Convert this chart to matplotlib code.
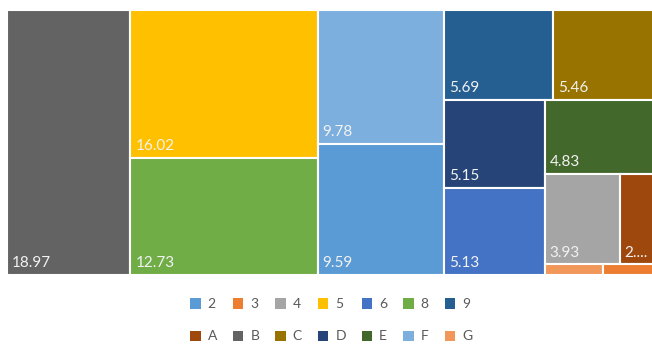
import matplotlib.pyplot as plt
from matplotlib.patches import Rectangle, Patch

plt.rcParams['font.family'] = ['Lato', 'DejaVu Sans']

# shares per category (%), largest first
names = ['B', '5', '8', 'F', '2', '9', 'C', 'D', '6', 'E', '4', 'A', 'G', '3']
values = [18.97, 16.02, 12.73, 9.78, 9.59, 5.69, 5.46, 5.15, 5.13, 4.83, 3.93, 2.02, 0.36, 0.34]
legend_row1 = ['2', '3', '4', '5', '6', '8', '9']
legend_row2 = ['A', 'B', 'C', 'D', 'E', 'F', 'G']

colors = {
    '2': '#5B9BD5', '3': '#ED7D31', '4': '#A5A5A5', '5': '#FFC000',
    '6': '#4472C4', '8': '#70AD47', '9': '#255E91', 'A': '#9E480E',
    'B': '#636363', 'C': '#997300', 'D': '#264478', 'E': '#43682B',
    'F': '#7CAFDD', 'G': '#F1975A',
}

# nested split: 'h' lays children left to right, 'v' top to bottom
layout = ('h', ['B', ('v', ['5', '8']), ('v', ['F', '2']),
                ('v', [('h', ['9', 'C']),
                       ('h', [('v', ['D', '6']),
                              ('v', ['E', ('h', ['4', 'A']), ('h', ['G', '3'])])])])])

val = dict(zip(names, values))


def total(node):
    if isinstance(node, str):
        return val[node]
    return sum(total(c) for c in node[1])


def place(node, x, y, w, h, out):
    if isinstance(node, str):
        out[node] = (x, y, w, h)
        return
    kind, kids = node
    s = total(node)
    for k in kids:
        f = total(k) / s
        if kind == 'h':
            place(k, x, y, w * f, h, out)
            x += w * f
        else:
            place(k, x, y, w, h * f, out)
            y += h * f


W, H = 651, 265  # plot box in pixels
boxes = {}
place(layout, 0, 0, W, H, boxes)

fig = plt.figure(figsize=(6.52, 3.46), dpi=100)
ax = fig.add_axes([7 / 652, (346 - 275) / 346, W / 652, H / 346])
ax.set_xlim(0, W)
ax.set_ylim(H, 0)
ax.axis('off')

for n in names:
    x, y, w, h = boxes[n]
    ax.add_patch(Rectangle((x, y), w, h, facecolor=colors[n],
                           edgecolor='white', linewidth=1.5))
    if h > 25:
        txt = f'{val[n]:.2f}'
        if w < 45:
            txt = txt[:2] + '...'
        ax.annotate(txt, (x, y + h), xytext=(3.5, 5.5), textcoords='offset points',
                    ha='left', va='baseline', fontsize=11, color='#F2F2F2')

order = [k for pair in zip(legend_row1, legend_row2) for k in pair]
handles = [Patch(facecolor=colors[k], edgecolor='none') for k in order]
fig.legend(handles, order, ncol=7, loc='center', bbox_to_anchor=(0.508, 0.074),
           frameon=False, handlelength=0.75, handleheight=0.75, handletextpad=0.5,
           columnspacing=1.15, labelspacing=1.45, fontsize=10, labelcolor='#595959')

fig.savefig('out.png', dpi=100)
